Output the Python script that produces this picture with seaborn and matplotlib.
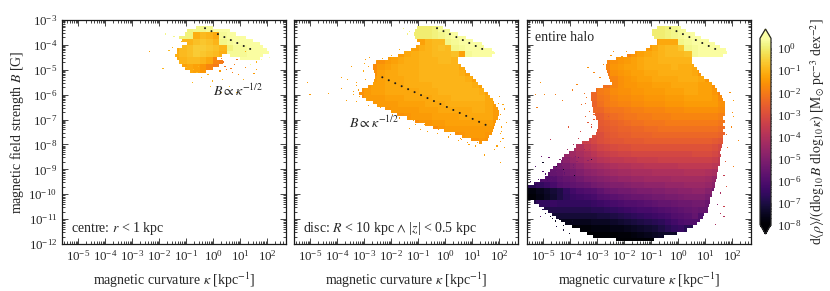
import numpy as np
import pandas as pd
import seaborn as sns
import matplotlib
matplotlib.use("Agg")
import matplotlib.pyplot as plt
from matplotlib.cm import ScalarMappable
from matplotlib.colors import LogNorm
from matplotlib.ticker import LogLocator, NullFormatter

sns.set_theme(style="ticks")
plt.rcParams["font.family"] = ["Liberation Serif", "DejaVu Serif"]
plt.rcParams["mathtext.fontset"] = "stix"
plt.rcParams["axes.linewidth"] = 0.9

# Density tables: (row, first column, [10*log10 density ...]); row 0 starts at log B = -12,
# column 0 starts at log kappa = -5.75, every entry covers a quarter decade each way.
CENTRE_ROWS = [
    (34, 19, [1, 2, 2, 3, 4, 4, 4]),
    (33, 18, [1, 1, -11, -9, -10, -12, 3, 4, 4, 4, 4]),
    (32, 19, [-10, -8, -7, -8, -10, 2, 3, 4, 4, 4, 4]),
    (31, 17, [-12, -9, -8, -6, -6, -7, -8, -10, 1, 3, 3, 4, 4, 4]),
    (30, 17, [-11, -9, -8, -6, -7, -8, -9, -11, 3, 3, 3, 4, 4, 4, 4]),
    (29, 17, [-12, -10, -9, -9, -10, -12, -18, -20, 3, 3, 4, 4, 4, 4, 4]),
    (28, 18, [-13, -12, -13, -15, -18, -20]),
]
DISC_ROWS = [
    (34, 19, [0, 0, 1, 3]),
    (33, 19, [0, 0, 1, 2, 3, 4, 4]),
    (32, 19, [-13, -10, -9, -9, 2, 3, 4, 4, 4]),
    (31, 18, [-13, -11, -10, -9, -8, -9, 2, 3, 4, 4, 4, 4]),
    (30, 16, [-14, -12, -11, -10, -10, -9, -9, -9, -8, -13, 3, 4, 4, 4]),
    (29, 13, [-16, -14, -13, -12, -11, -11, -10, -10, -10, -9, -9, -10]),
    (28, 12, [-17, -14, -13, -12, -11, -11, -11, -10, -10, -10, -10, -10, -10, -12]),
    (27, 12, [-16, -13, -12, -12, -11, -11, -11, -10, -10, -10, -10, -10, -10, -11, -13]),
    (26, 11, [-18, -14, -13, -12, -12, -12, -11, -11, -10, -10, -10, -10, -10, -10, -10, -11, -13]),
    (25, 11, [-15, -13, -13, -12, -12, -12, -11, -11, -11, -11, -10, -10, -10, -10, -10, -10, -11, -13]),
    (24, 10, [-16, -14, -13, -13, -12, -12, -12, -12, -12, -11, -11, -11, -10, -10, -10, -10, -10, -10, -11, -13]),
    (23, 10, [-17, -14, -14, -14, -13, -13, -13, -12, -12, -12, -12, -11, -11, -11, -10, -10, -10, -10, -10, -12, -14]),
    (22, 12, [-15, -14, -14, -14, -13, -13, -13, -13, -12, -12, -12, -11, -11, -11, -11, -11, -11, -12, -14]),
    (21, 14, [-15, -14, -14, -14, -14, -13, -13, -13, -12, -12, -12, -12, -12, -11, -11, -12, -14]),
    (20, 16, [-16, -15, -14, -14, -14, -13, -13, -13, -13, -12, -12, -12, -12, -12, -14]),
    (19, 18, [-17, -15, -15, -14, -14, -13, -13, -13, -13, -13, -13, -13, -15]),
    (18, 21, [-17, -15, -14, -14, -14, -14, -14, -14, -14, -16]),
    (17, 24, [-16, -15, -14, -14, -14, -15]),
    (16, 27, [-16, -15, -16]),
]
HALO_ROWS = [
    (34, 19, [0, 0, 1, 2, 3]),
    (33, 19, [0, 0, 1, 2, 3, 4, 4, 4]),
    (32, 19, [-14, -12, -12, -12, 2, 3, 4, 4, 4, 4]),
    (31, 18, [-14, -12, -10, -9, -9, -7, 2, 3, 4, 4, 4, 4, 4]),
    (30, 15, [-18, -15, -13, -12, -11, -10, -9, -9, -9, -8, 3, 4, 4, 4, 4, 4]),
    (29, 12, [-18, -16, -15, -14, -13, -12, -11, -11, -10, -10, -10, -10, -10]),
    (28, 12, [-18, -15, -14, -13, -13, -12, -11, -11, -11, -11, -10, -11, -11, -12]),
    (27, 12, [-20, -16, -15, -14, -13, -13, -12, -12, -11, -11, -11, -11, -11, -12, -15]),
    (26, 13, [-18, -16, -15, -14, -13, -13, -12, -12, -12, -12, -11, -11, -11, -12, -15]),
    (25, 12, [-22, -18, -16, -15, -15, -14, -14, -13, -13, -13, -12, -12, -12, -12, -13, -13, -16]),
    (24, 10, [-24, -20, -19, -17, -16, -16, -15, -15, -14, -14, -14, -13, -13, -13, -12, -12, -13, -13, -15, -19]),
    (23, 10, [-24, -21, -20, -18, -17, -17, -16, -16, -15, -15, -15, -14, -14, -14, -13, -13, -13, -13, -14, -17]),
    (22, 10, [-25, -22, -20, -19, -18, -18, -17, -17, -16, -16, -16, -15, -15, -15, -14, -14, -14, -14, -14, -16]),
    (21, 11, [-24, -22, -21, -21, -20, -19, -19, -18, -18, -18, -17, -17, -17, -16, -16, -16, -16, -16, -17]),
    (20, 11, [-26, -24, -23, -22, -21, -21, -20, -20, -19, -19, -19, -18, -18, -18, -18, -18, -18, -18, -19]),
    (19, 11, [-27, -26, -25, -24, -23, -22, -22, -21, -21, -21, -20, -20, -20, -20, -20, -20, -20, -20, -21]),
    (18, 11, [-28, -27, -26, -25, -25, -24, -24, -23, -23, -22, -22, -22, -22, -22, -22, -22, -22, -22, -23]),
    (17, 11, [-30, -28, -27, -26, -26, -25, -25, -25, -24, -24, -24, -24, -24, -24, -24, -24, -24, -24, -25]),
    (16, 9, [-34, -32, -30, -29, -28, -28, -27, -27, -27, -26, -26, -26, -26, -26, -26, -26, -26, -26, -26, -27, -28]),
    (15, 7, [-43, -40, -37, -35, -33, -32, -31, -30, -30, -29, -29, -29, -29, -29, -29, -29, -29, -29, -29, -29, -29, -30, -32]),
    (14, 5, [-50, -46, -44, -42, -40, -38, -36, -35, -34, -33, -33, -32, -32, -32, -32, -32, -32, -32, -32, -32, -31, -31, -31, -32, -34]),
    (13, 4, [-52, -50, -48, -46, -44, -42, -41, -39, -38, -37, -37, -36, -36, -35, -35, -35, -34, -34, -34, -34, -34, -34, -34, -34, -35, -37]),
    (12, 3, [-55, -54, -53, -51, -49, -47, -45, -44, -43, -42, -41, -40, -40, -39, -39, -38, -38, -38, -38, -38, -37, -37, -37, -37, -37, -38]),
    (11, 3, [-58, -56, -55, -53, -52, -50, -48, -47, -46, -45, -44, -43, -43, -42, -42, -42, -41, -41, -41, -41, -41, -40, -40, -40, -41, -42]),
    (10, 1, [-60, -60, -60, -59, -57, -56, -55, -53, -51, -50, -49, -48, -47, -46, -46, -45, -45, -44, -44, -44, -44, -43, -43, -43, -43, -43, -44, -46]),
    (9, 0, [-68, -68, -66, -64, -62, -59, -58, -57, -56, -55, -53, -52, -51, -50, -50, -49, -48, -48, -47, -47, -47, -46, -46, -46, -45, -45, -45, -46, -48]),
    (8, 0, [-78, -78, -76, -74, -72, -70, -66, -63, -61, -60, -59, -57, -55, -54, -53, -53, -52, -51, -51, -50, -50, -49, -49, -48, -48, -47, -47, -49, -53]),
    (7, 0, [-80, -79, -77, -75, -73, -70, -67, -65, -64, -63, -62, -60, -59, -58, -57, -56, -55, -55, -54, -53, -53, -52, -52, -51, -50, -50, -50, -52]),
    (6, 1, [-70, -66, -66, -65, -66, -66, -66, -66, -66, -65, -64, -63, -62, -61, -60, -60, -59, -58, -57, -56, -56, -55, -54, -54, -53, -53, -55]),
    (5, 3, [-70, -69, -69, -69, -69, -69, -69, -68, -68, -67, -66, -65, -64, -63, -62, -62, -61, -60, -59, -58, -57, -56, -55, -56]),
    (4, 4, [-72, -72, -72, -72, -72, -72, -72, -71, -71, -70, -69, -68, -67, -66, -65, -64, -63, -62, -60, -59, -58, -56, -60]),
    (3, 5, [-76, -76, -76, -76, -76, -75, -75, -75, -74, -73, -72, -71, -70, -69, -68, -67, -65, -63, -61, -60, -60]),
    (2, 6, [-80, -80, -79, -79, -78, -78, -78, -77, -77, -76, -75, -74, -73, -72, -70, -68, -66, -65, -68]),
    (1, 9, [-82, -81, -81, -80, -80, -79, -79, -78, -77, -76, -75, -74, -74]),
    (0, 15, [-85, -85, -83]),
]

# Cloud outlines in log kappa, one left/right pair per eighth of a decade in B,
# going downward from the band that starts at log B = -3.375.
HALO_LEFT = [-0.79, -0.97, -0.97, -0.91, -0.79, -0.79, -1.03, -1.22, -1.59, -1.90,
             -2.27, -2.64, -2.70, -2.70, -2.66, -2.61, -2.56, -2.51, -2.45, -2.76,
             -3.07, -3.23, -3.25, -3.23, -3.20, -3.19, -3.16, -3.13, -3.08, -3.03,
             -2.98, -2.95, -2.95, -3.01, -3.06, -3.19, -3.32, -3.56, -3.75, -3.87,
             -4.06, -4.24, -4.30, -4.37, -4.49, -4.61, -4.74, -4.80, -4.92, -5.11,
             -5.35, -5.70, -5.70, -5.70, -5.70, -5.70, -5.35, -5.17, -4.98, -4.80,
             -4.67, -4.55, -4.37, -4.18, -3.93, -3.62, -3.38, -3.13, -2.27]
HALO_RIGHT = [0.08, 0.26, 0.63, 0.88, 1.13, 1.38, 1.56, 1.75, 1.83, 1.68,
              0.51, 0.51, 0.60, 0.70, 0.76, 0.88, 0.97, 1.13, 1.25, 1.34,
              1.44, 1.56, 1.62, 1.68, 1.71, 1.71, 1.73, 1.71, 1.71, 1.68,
              1.71, 1.68, 1.71, 1.68, 1.71, 1.68, 1.66, 1.68, 1.62, 1.59,
              1.56, 1.59, 1.56, 1.54, 1.56, 1.51, 1.50, 1.44, 1.44, 1.41,
              1.38, 1.38, 1.31, 1.29, 1.25, 1.19, 1.19, 1.13, 1.07, 1.07,
              0.94, 0.92, 0.82, 0.70, 0.57, 0.33, -0.04, -0.54, -0.91]
DISC_LEFT = [-1.01, -1.11, -1.16, -1.11, -1.01, -0.95, -1.07, -1.25, -1.50, -1.75,
             -2.12, -2.55, -2.67, -2.67, -2.64, -2.61, -2.59, -2.64, -2.71, -2.86,
             -3.08, -3.17, -3.08, -2.92, -2.67, -2.49, -2.24, -2.00, -1.81, -1.44,
             -1.13, -0.76, -0.45, -0.02, 0.35, 0.66, 0.97, 1.28]
DISC_RIGHT = [-0.08, 0.17, 0.47, 0.78, 1.03, 1.34, 1.46, 1.71, 1.83, 1.71,
              0.47, 0.47, 0.60, 0.72, 0.78, 0.91, 1.03, 1.12, 1.22, 1.34,
              1.46, 1.59, 1.68, 1.77, 1.83, 1.91, 1.96, 1.98, 2.00, 1.96,
              1.89, 1.86, 1.81, 1.77, 1.73, 1.65, 1.59, 1.34]
CENTRE_LEFT = [-0.61, -0.98, -1.04, -1.23, -1.17, -0.98, -1.17, -1.35, -1.35, -1.41,
               -1.35, -1.23, -1.17, -1.04, -0.86]
CENTRE_RIGHT = [0.00, 0.62, 0.87, 1.24, 1.49, 1.73, 1.86, 1.98, 2.10, 0.31,
                0.13, 0.38, 0.25, 0.00, -0.24]
# Extra stretches of the centre cloud on rows that split in two: first outline row, left, right.
CENTRE_EXTRA = [(9, 0.62, 1.86), (10, 0.99, 1.73)]

# Isolated specks around the main clouds: log kappa, log B, 10*log10 density.
CENTRE_SPECK_K = [-2.34, -1.85, -1.75, -1.45, -1.2, -1.4, -1.0, -0.6, -0.4, -0.2, 0.0, 0.35, 0.6, 0.9, 0.3, 1.1, 1.6, 1.2, 0.8, 0.4, 0.5, 0.7, 1.6, 1.4, 1.9, 2.1, 1.8, 1.5, -0.8, -0.1, -1.5, -1.65, -1.3, 0.3, 0.45, 0.65, 0.9, 0.15, 0.25, -0.75, -0.55, -1.05, 0.95, 1.2]
CENTRE_SPECK_B = [-4.30, -4.97, -3.55, -3.65, -3.9, -4.4, -4.9, -5.1, -5.3, -5.2, -5.45, -5.4, -5.7, -5.9, -5.9, -5.4, -5.0, -4.9, -4.8, -4.7, -5.0, -5.1, -4.7, -4.8, -4.35, -4.5, -4.6, -5.15, -5.5, -5.7, -4.1, -4.25, -4.6, -4.55, -4.85, -4.95, -4.6, -4.85, -5.05, -5.0, -4.85, -4.75, -5.2, -4.3]
CENTRE_SPECK_L = [-13, -10, 2, 2, -10, -10, -9, -9, -9, -10, -10, -9, -9, -9, -9, -10, -13, -18, -20, -22, -20, -20, -10, 3, 4, 4, 4, -14, -10, -9, -10, -9, -10, -20, -22, -20, -22, -16, -14, -9, -10, -9, -16, -12]
DISC_SPECK_K = [-5.1, -5.02, -4.34, -3.85, -3.48, -3.6, -3.85, -3.66, -3.4, -3.2, -2.98, -2.85, -3.05, -1.69, -1.32, -0.64, 0.47, 1.46, 2.07, 2.2, 2.07, 2.14, 2.26, 1.2, -1.56, -1.32, 1.83, -3.3, -3.4, -3.15, -3.3, -2.95, -2.8, -2.95, -2.85, -1.95, -1.75, -1.1, -0.9, -0.3, 0.1, 0.6, 0.9, 2.05, 2.1, 2.15, 2.0, 2.2, 1.9, 2.05, -1.4, -1.7, -2.2, -2.4, -2.6, -2.9, -3.3, -1.2, -0.8, -0.25, 0.2, 0.55, 0.85, 1.1, 1.95, 2.02, 2.12, 1.85, -2.0, -2.3, -2.55]
DISC_SPECK_B = [-5.5, -6.01, -5.97, -5.34, -4.87, -5.4, -5.75, -6.2, -6.0, -5.8, -4.74, -4.87, -5.07, -6.95, -7.35, -7.48, -7.82, -8.42, -8.76, -8.1, -7.55, -6.41, -7.1, -7.95, -3.33, -3.47, -4.34, -5.5, -5.85, -6.1, -6.25, -4.6, -4.5, -5.4, -6.45, -6.8, -6.85, -7.2, -7.4, -7.55, -7.7, -7.8, -8.0, -6.8, -7.3, -7.75, -6.1, -6.6, -8.05, -7.9, -3.55, -4.2, -6.5, -6.55, -6.35, -6.2, -5.65, -7.05, -7.2, -7.4, -7.6, -7.75, -7.95, -8.05, -6.35, -7.0, -7.5, -8.2, -4.4, -4.55, -4.65]
DISC_SPECK_L = [-14, -14, -13, -13, -13, -12, -14, -13, -12, -13, -12, -13, -12, -14, -13, -13, -13, -13, -14, -13, -12, -12, -13, -13, 1, 1, 4, -13, -13, -12, -13, -14, -13, -13, -14, -14, -13, -13, -14, -13, -13, -14, -13, -14, -13, -14, -13, -14, -13, -14, 1, -12, -14, -15, -14, -13, -14, -14, -13, -14, -14, -15, -14, -13, -14, -13, -14, -13, -12, -13, -12]
HALO_SPECK_K = [-5.08, -4.98, -5.3, -5.24, -4.55, -4.3, -3.93, -3.75, -3.5, -3.44, -3.14, -3.33, -2.39, -2.76, 2.05, 2.05, 2.23, 2.05, 1.8, 1.68, 1.56, -5.0, -4.5, -4.25, -3.82, -3.2, -5.3, -4.8, -3.7, -5.1, -4.5, -4.25, -4.0, 1.4, 1.7, -4.75, -4.05, -3.6, -3.2, -2.6, -5.2, -4.9, -4.65, -4.4, -5.05, -4.85, -4.1, -3.9, -3.4, -3.7, -3.5, -3.8, -3.35, -3.9, -4.2, -4.6, -5.0, -5.3, -4.15, -3.95, -3.65, 1.95, 1.85, 1.75, 2.0, 1.8, 1.7, 1.55, 1.45, 1.9, -2.9, -2.5, -3.1, -1.9, -2.1, -5.45, -5.2, -5.05, -4.85, -4.7, -4.6, -4.5, -4.4, -4.3, -4.2, -4.05, -3.95, -5.25, -5.15, -5.0, -4.9, -4.75, -4.65, -4.55, -4.4, -4.25, -4.45, -4.6, -4.35, -4.2, -3.4, -3.55, -3.3, -3.45, -3.35, -3.2, -3.1, -3.05, -2.95, -3.05, -3.25, -3.5, -3.7, -3.3, -3.45, -3.6, -3.75, -3.9]
HALO_SPECK_B = [-5.48, -6.0, -6.0, -6.55, -6.0, -6.2, -5.8, -5.6, -5.93, -6.35, -6.82, -4.9, -4.27, -4.8, -6.2, -6.88, -7.82, -8.89, -9.7, -10.9, -10.77, -8.76, -8.89, -9.03, -9.23, -8.62, -8.89, -8.5, -8.5, -10.9, -11.3, -11.44, -11.57, -11.2, -10.5, -7.8, -7.3, -7.5, -7.2, -6.9, -9.4, -9.2, -9.05, -8.6, -8.45, -9.45, -8.2, -8.0, -7.95, -7.75, -8.2, -8.45, -8.65, -8.85, -9.15, -9.3, -9.1, -9.55, -10.9, -11.1, -11.35, -7.3, -8.1, -8.7, -6.7, -7.6, -9.25, -9.95, -10.4, -5.9, -5.3, -4.4, -5.1, -4.3, -4.45, -9.5, -9.55, -9.45, -9.35, -9.4, -9.25, -9.1, -8.95, -8.85, -8.7, -8.6, -8.5, -10.35, -10.5, -10.65, -10.75, -10.9, -11.0, -11.1, -11.05, -11.25, -9.55, -9.65, -9.35, -9.2, -6.15, -6.4, -6.65, -6.9, -7.1, -7.3, -7.0, -6.65, -7.45, -7.7, -7.8, -7.95, -8.1, -8.2, -8.35, -8.55, -8.7, -8.9]
HALO_SPECK_L = [-16, -18, -18, -20, -20, -20, -20, -18, -22, -24, -24, -16, -17, -17, -14, -15, -17, -20, -30, -40, -40, -75, -75, -75, -75, -70, -60, -55, -55, -60, -70, -72, -75, -42, -35, -38, -28, -32, -30, -28, -60, -62, -55, -50, -55, -62, -44, -42, -38, -35, -45, -50, -48, -52, -58, -58, -62, -60, -72, -74, -78, -18, -22, -28, -17, -22, -36, -42, -48, -16, -17, -15, -18, -14, -14, -66, -64, -62, -60, -58, -56, -54, -52, -50, -48, -46, -44, -68, -70, -70, -72, -74, -74, -76, -76, -78, -60, -62, -58, -56, -22, -24, -24, -26, -28, -30, -26, -23, -30, -33, -34, -36, -38, -40, -42, -44, -48, -52]

DOT_KAPPA_UPPER = [0.5, 32.0]
DOT_FIELD_UPPER = [4.7e-4, 5.9e-5]
DOT_KAPPA_LOWER = [0.0047, 33.0]
DOT_FIELD_LOWER = [5.0e-6, 6.0e-8]

PANEL_TEXT = ["centre: $r$ < 1 kpc", r"disc: $R$ < 10 kpc $\wedge$ |$z$| < 0.5 kpc", "entire halo"]
X_LABEL = r"magnetic curvature $\kappa$ [kpc$^{-1}$]"
Y_LABEL = "magnetic field strength $B$ [G]"
CBAR_LABEL = (r"d$\langle\rho\rangle/($d$\log_{10}B$ d$\log_{10}\kappa)$ "
              r"[M$_{\odot}$ pc$^{-3}$ dex$^{-2}$]")
X_LIMITS = (10 ** -5.6, 10 ** 2.7)
Y_LIMITS = (1e-12, 1e-3)
LOG_DENSITY_TOP = 0.45
LOG_DENSITY_BOTTOM = -8.0
FS = 10
TICK_FS = 9.3
TOP_BAND = 69

FINE_X = np.arange(-5.75, 2.76, 0.045)
FINE_Y = np.arange(-12, -2.99, 0.045)
BAND_Y = np.arange(-12, -2.99, 0.125)
X_CENTRES = (FINE_X[:-1] + FINE_X[1:]) / 2


def lookup(rows):
    table = {}
    for row, first, vals in rows:
        table.setdefault(row, {}).update({first + c: v for c, v in enumerate(vals)})
    return table


def filled_cells(rows, left, right, extra=()):
    table = lookup(rows)
    spans = [(i, l, r) for i, (l, r) in enumerate(zip(left, right))] + list(extra)
    out = []
    for i, l, r in spans:
        band = TOP_BAND - i
        row = min(table, key=lambda t: abs(t - band // 2))
        keep = X_CENTRES[(X_CENTRES >= l) & (X_CENTRES <= r)]
        for x in keep:
            col = int((x + 5.75) // 0.25)
            nearest = min(table[row], key=lambda c: abs(c - col))
            out.append((10.0 ** x, 10.0 ** (-12 + 0.125 * (band + 0.5)), table[row][nearest] / 10 + 9))
    return pd.DataFrame(out, columns=["k", "b", "w"])


def speck_cells(ks, bs, ls):
    return pd.DataFrame({"k": 10.0 ** np.array(ks), "b": 10.0 ** np.array(bs), "w": np.array(ls) / 10 + 9})


W, H = 830, 291
fig = plt.figure(figsize=(W / 100, H / 100), dpi=100)
lefts = [62, 294, 527]
axes = [fig.add_axes([l / W, 1 - 244 / H, 224 / W, 224 / H]) for l in lefts]
tables = [(CENTRE_ROWS, CENTRE_LEFT, CENTRE_RIGHT, CENTRE_EXTRA, CENTRE_SPECK_K, CENTRE_SPECK_B, CENTRE_SPECK_L),
          (DISC_ROWS, DISC_LEFT, DISC_RIGHT, (), DISC_SPECK_K, DISC_SPECK_B, DISC_SPECK_L),
          (HALO_ROWS, HALO_LEFT, HALO_RIGHT, (), HALO_SPECK_K, HALO_SPECK_B, HALO_SPECK_L)]
style = dict(weights="w", log_scale=True, cmap="inferno", vmin=LOG_DENSITY_BOTTOM + 9,
             vmax=LOG_DENSITY_TOP + 9, thresh=0, rasterized=True, linewidth=0)
dots = dict(color="k", lw=1.5, ls=(0, (0.01, 3.4)), dash_capstyle="round")

for ax, (rows, le, ri, ex, sk, sb, sl) in zip(axes, tables):
    sns.histplot(data=filled_cells(rows, le, ri, ex), x="k", y="b", bins=(FINE_X, BAND_Y), ax=ax, **style)
    sns.histplot(data=speck_cells(sk, sb, sl), x="k", y="b", bins=(FINE_X, FINE_Y), ax=ax, **style)
    ax.plot(DOT_KAPPA_UPPER, DOT_FIELD_UPPER, **dots)
    ax.set_xlim(*X_LIMITS)
    ax.set_ylim(*Y_LIMITS)
    ax.set_xlabel(X_LABEL, fontsize=FS, labelpad=5)
    ax.set_ylabel("")
    ax.xaxis.set_major_locator(LogLocator(base=10, numticks=12))
    ax.xaxis.set_minor_locator(LogLocator(base=10, subs=np.arange(2, 10), numticks=12))
    ax.yaxis.set_major_locator(LogLocator(base=10, numticks=12))
    ax.yaxis.set_minor_locator(LogLocator(base=10, subs=np.arange(2, 10), numticks=12))
    ax.xaxis.set_minor_formatter(NullFormatter())
    ax.yaxis.set_minor_formatter(NullFormatter())
    ax.tick_params(which="both", direction="in", top=True, right=True, width=0.6, labelsize=TICK_FS, pad=3.5)
    ax.tick_params(which="major", length=4.2)
    ax.tick_params(which="minor", length=2.2)
    for s in ax.spines.values():
        s.set_visible(True)
        s.set_color("k")

axes[0].set_ylabel(Y_LABEL, fontsize=FS, labelpad=2)
for ax in axes[1:]:
    ax.tick_params(labelleft=False)
axes[1].plot(DOT_KAPPA_LOWER, DOT_FIELD_LOWER, **dots)

axes[0].text(0.04, 0.055, PANEL_TEXT[0], transform=axes[0].transAxes, fontsize=FS)
axes[1].text(0.04, 0.055, PANEL_TEXT[1], transform=axes[1].transAxes, fontsize=FS)
axes[2].text(0.035, 0.905, PANEL_TEXT[2], transform=axes[2].transAxes, fontsize=FS)
axes[0].text(0.675, 0.66, r"$B\propto\kappa^{-1/2}$", transform=axes[0].transAxes, fontsize=FS)
axes[1].text(0.245, 0.52, r"$B\propto\kappa^{-1/2}$", transform=axes[1].transAxes, fontsize=FS)

cax = fig.add_axes([760 / W, 1 - 234 / H, 11 / W, 205 / H])
sm = ScalarMappable(LogNorm(10 ** LOG_DENSITY_BOTTOM, 10 ** LOG_DENSITY_TOP), cmap="inferno")
cb = fig.colorbar(sm, cax=cax, extend="both", extendfrac=0.05)
cb.set_label(CBAR_LABEL, fontsize=9.9, labelpad=5)
cb.ax.yaxis.set_major_locator(LogLocator(base=10, numticks=12))
cb.ax.yaxis.set_minor_locator(LogLocator(base=10, subs=np.arange(2, 10), numticks=12))
cb.ax.yaxis.set_minor_formatter(NullFormatter())
cb.ax.tick_params(which="both", direction="in", width=0.6, labelsize=TICK_FS, pad=4, color="k")
cb.ax.tick_params(which="major", length=4.2)
cb.ax.tick_params(which="minor", length=2.2)
cb.outline.set_linewidth(0.9)

fig.savefig("out.png", dpi=100)
